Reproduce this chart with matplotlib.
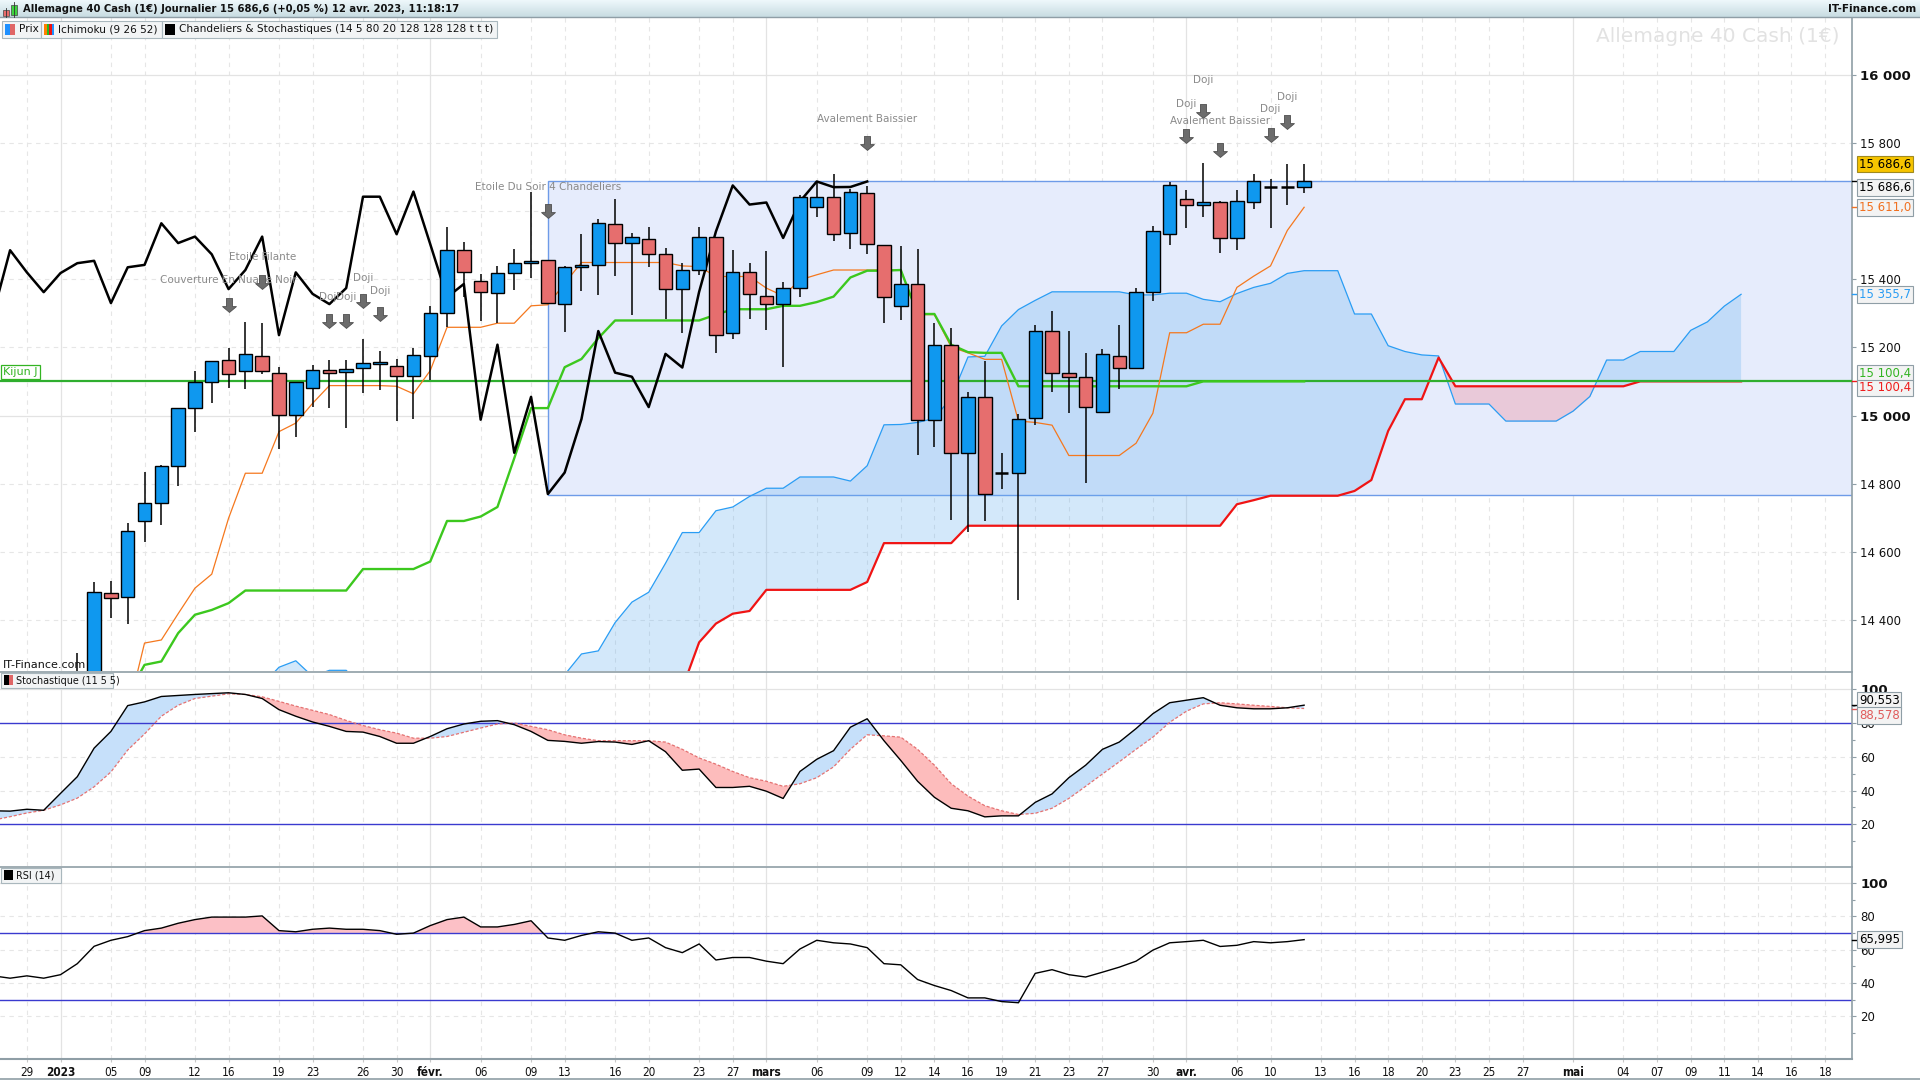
import numpy as np
import matplotlib
matplotlib.use("Agg")
import matplotlib.pyplot as plt
from matplotlib.path import Path
from matplotlib.patches import Rectangle
from matplotlib.lines import Line2D
from matplotlib.colors import LinearSegmentedColormap
import matplotlib.transforms as mtransforms
from matplotlib import font_manager

# ---------------------------------------------------------------- data
bar_start = 3          # bar index of the first candle (0 = 29 déc.)
opens = [14150, 14181, 14481, 14468, 14691, 14743, 14852, 15021, 15098, 15162,
         15130, 15174, 15124, 15001, 15082, 15133, 15127, 15139, 15151, 15145,
         15115, 15174, 15300, 15486, 15394, 15359, 15418, 15447, 15457, 15327,
         15435, 15441, 15561, 15506, 15517, 15473, 15371, 15427, 15525, 15242,
         15420, 15352, 15327, 15374, 15613, 15642, 15535, 15654, 15501, 15320,
         15386, 14988, 15208, 14891, 15055, 14832, 14833, 14994, 15248, 15126,
         15113, 15012, 15175, 15141, 15363, 15534, 15636, 15619, 15625, 15521,
         15625, 15669, 15670, 15669]
highs = [14303, 14512, 14515, 14686, 14836, 14855, 15022, 15132, 15160, 15197,
         15274, 15271, 15142, 15098, 15148, 15163, 15163, 15224, 15189, 15165,
         15197, 15322, 15552, 15510, 15416, 15439, 15489, 15655, 15457, 15439,
         15533, 15577, 15636, 15535, 15553, 15491, 15449, 15554, 15525, 15486,
         15447, 15483, 15391, 15647, 15682, 15709, 15664, 15672, 15501, 15496,
         15488, 15272, 15257, 15068, 15159, 14889, 15005, 15267, 15306, 15247,
         15184, 15194, 15265, 15373, 15557, 15685, 15661, 15740, 15629, 15663,
         15708, 15693, 15737, 15737]
lows = [14130, 14160, 14406, 14388, 14628, 14678, 14794, 14953, 15038, 15082,
        15078, 15121, 14903, 14938, 15024, 15021, 14965, 15067, 15076, 14985,
        14991, 15105, 15260, 15349, 15276, 15271, 15367, 15403, 15329, 15244,
        15364, 15355, 15410, 15296, 15435, 15284, 15241, 15411, 15185, 15226,
        15284, 15252, 15144, 15349, 15581, 15513, 15490, 15474, 15271, 15280,
        14884, 14908, 14693, 14659, 14691, 14784, 14460, 14972, 15068, 15009,
        14802, 15012, 15078, 15136, 15336, 15501, 15550, 15583, 15477, 15486,
        15606, 15550, 15618, 15653]
closes = [14181, 14484, 14465, 14662, 14743, 14852, 15021, 15098, 15159, 15121,
          15180, 15130, 15001, 15098, 15133, 15124, 15136, 15153, 15157, 15115,
          15177, 15300, 15485, 15420, 15362, 15418, 15447, 15454, 15330, 15435,
          15442, 15564, 15506, 15525, 15473, 15371, 15427, 15525, 15236, 15420,
          15357, 15327, 15374, 15642, 15642, 15532, 15657, 15503, 15347, 15386,
          14988, 15208, 14891, 15055, 14770, 14833, 14990, 15248, 15126, 15114,
          15025, 15181, 15141, 15363, 15540, 15675, 15619, 15625, 15521, 15628,
          15686.6, 15670, 15670.5, 15686.6]

line_start = 6         # first bar of tenkan / kijun
tenkan = [14130, 14333, 14342, 14419, 14494, 14535, 14699, 14831, 14831, 14953,
          14978, 15036, 15088, 15088, 15088, 15088, 15086, 15064, 15132, 15259,
          15259, 15259, 15271, 15271, 15322, 15325, 15388, 15449, 15449, 15449,
          15449, 15449, 15449, 15439, 15437, 15408, 15408, 15408, 15374, 15351,
          15398, 15413, 15427, 15427, 15427, 15427, 15427, 15296, 15296, 15201,
          15184, 15165, 15165, 14984, 14980, 14972, 14883, 14883, 14883, 14883,
          14919, 15007, 15243, 15243, 15268, 15268, 15376, 15409, 15439, 15543,
          15611]
kijun = [14180, 14269, 14279, 14362, 14416, 14430, 14450, 14487, 14487, 14487,
         14487, 14487, 14487, 14487, 14550, 14550, 14550, 14550, 14572, 14691,
         14691, 14704, 14732, 14875, 15022, 15022, 15142, 15166, 15227, 15279,
         15279, 15279, 15279, 15279, 15279, 15296, 15312, 15312, 15312, 15322,
         15322, 15333, 15349, 15405, 15425, 15425, 15427, 15298, 15298, 15208,
         15186, 15184, 15184, 15086, 15086, 15086, 15086, 15086, 15086, 15086,
         15086, 15086, 15086, 15086, 15100.4, 15100.4, 15100.4, 15100.4, 15100.4, 15100.4,
         15100.4]
chikou_shift = 26

span_start = 14        # first bar of the cloud
span_a = [14210, 14262, 14281, 14235, 14253, 14253, 14200, 14180, 14160, 14150,
          14150, 14140, 14140, 14150, 14160, 14180, 14200, 14215, 14240, 14301,
          14310, 14393, 14453, 14482, 14567, 14657, 14657, 14721, 14732, 14763,
          14787, 14787, 14820, 14820, 14820, 14808, 14853, 14973, 14974, 14980,
          14992, 15053, 15172, 15174, 15263, 15311, 15338, 15363, 15363, 15363,
          15363, 15363, 15354, 15354, 15359, 15359, 15341, 15334, 15358, 15376,
          15388, 15417, 15425, 15425, 15425, 15298, 15298, 15205, 15188, 15178,
          15175, 15034, 15034, 15034, 14984, 14984, 14984, 14984, 15013, 15056,
          15163, 15163, 15188, 15188, 15188, 15250, 15275, 15321, 15355.7]
span_b = [14000, 14000, 14000, 14000, 14000, 14000, 14000, 14000, 14000, 14000,
          14000, 14000, 14000, 14000, 14000, 14000, 14000, 14000, 14050, 14080,
          14100, 14120, 14150, 14170, 14180, 14200, 14335, 14390, 14419, 14427,
          14489, 14489, 14489, 14489, 14489, 14489, 14512, 14626, 14626, 14626,
          14626, 14626, 14677, 14677, 14677, 14677, 14677, 14677, 14677, 14677,
          14677, 14677, 14677, 14677, 14677, 14677, 14677, 14677, 14740, 14752,
          14765, 14765, 14765, 14765, 14765, 14779, 14811, 14955, 15048, 15048,
          15170, 15086, 15086, 15086, 15086, 15086, 15086, 15086, 15086, 15086,
          15086, 15086, 15100.4, 15100.4, 15100.4, 15100.4, 15100.4, 15100.4, 15100.4]
kijun_j = 15100.4
box_start = 31
box_low, box_high = 14768, 15686.6

osc_start = -2
stoch_k = [28, 27.8, 28.9, 28.3, 38.3, 48.2, 65.1, 75, 90.3, 92.5,
           95.7, 96.3, 96.9, 97.4, 97.9, 96.9, 94.5, 87.9, 84, 80.6,
           78, 75, 74.6, 72, 68, 68, 72, 76.6, 79.4, 81,
           81.4, 79, 75, 69.7, 69.1, 68, 69, 68.7, 67.3, 69.5,
           63, 52, 52.7, 41.8, 41.8, 42.5, 39.6, 35.3, 51.3, 58.5,
           63.6, 77.5, 82.5, 69.5, 57.8, 45.5, 36, 29.5, 28, 24.4,
           25, 25, 33, 38, 47.6, 55, 64.4, 68.7, 76.7, 85.5,
           92, 93.5, 95, 90.5, 89, 88.4, 88.4, 89, 90.553]
stoch_d = [22.5, 24.5, 26.7, 28.3, 31.5, 35.5, 42.2, 51, 64, 73.5,
           84, 90.5, 94.5, 95.9, 97.3, 96.9, 95.5, 92.8, 90, 87.5,
           85, 81.5, 78.5, 76, 74, 71, 71, 72, 74.5, 77,
           79.4, 80, 78, 76, 73, 71, 69.5, 69.5, 69.5, 69.5,
           68.7, 64.4, 59.3, 55.6, 51.3, 47.6, 45.5, 42.5, 44, 47.6,
           54, 64.4, 73, 72.4, 71.6, 64.4, 55, 44, 36.7, 31,
           28, 25.8, 26.5, 29.5, 35.3, 42.5, 49.8, 57, 64.4, 71.6,
           80.4, 87, 91.3, 92, 91.3, 90.5, 89.8, 89, 88.578]
rsi = [44.3, 42.9, 44.3, 42.9, 45, 51.6, 62, 65.6, 67.8, 71.4,
       72.9, 75.8, 78, 79.5, 79.5, 79.5, 80.2, 71.4, 70.7, 72.2,
       72.9, 72.2, 72.2, 71.4, 69.2, 69.9, 74.4, 78, 79.5, 73.6,
       73.6, 75.1, 77.3, 67, 65.6, 68.5, 70.7, 69.9, 65.6, 67,
       61.2, 58.2, 63.4, 53.8, 55.3, 55.3, 53.1, 51.6, 60.4, 65.6,
       64.1, 63.4, 61.2, 51.6, 50.9, 42.1, 38.5, 35.5, 31.1, 31.1,
       28.9, 28.2, 45.8, 48, 45, 43.6, 46.5, 49.5, 53.1, 59.7,
       64.1, 64.8, 65.6, 61.9, 62.6, 64.8, 64.1, 64.8, 65.995]

tick_pos = [0, 2, 5, 7, 10, 12, 15, 17, 20, 22, 24, 27, 30, 32, 35, 37, 40, 42, 44, 47,
            50, 52, 54, 56, 58, 60, 62, 64, 67, 69, 72, 74, 77, 79, 81, 83, 85, 87, 89,
            92, 95, 97, 99, 101, 103, 105, 107]
tick_labels = ['29', '2023', '05', '09', '12', '16', '19', '23', '26', '30', 'févr.', '06',
               '09', '13', '16', '20', '23', '27', 'mars', '06', '09', '12', '14', '16',
               '19', '21', '23', '27', '30', 'avr.', '06', '10', '13', '16', '18', '20',
               '23', '25', '27', 'mai', '04', '07', '09', '11', '14', '16', '18']
month_labels = ['2023', 'févr.', 'mars', 'avr.', 'mai']

pattern_names = ['Couverture En Nuage Noir', 'Etoile Filante', 'Doji', 'Doji', 'Doji', 'Doji',
                 'Etoile Du Soir 4 Chandeliers', 'Avalement Baissier', 'Doji', 'Doji',
                 'Avalement Baissier', 'Doji', 'Doji']
pattern_bars = [12, 14, 18, 19, 20, 21, 31, 50, 69, 70, 71, 74, 75]
pattern_text_y = [15398, 15465, 15347, 15347, 15404, 15364, 15671, 15871, 15913, 15983,
                  15865, 15898, 15933]
pattern_arrow_y = [15325, 15391, 15278, 15278, 15337, 15298, 15601, 15799, 15820, 15894,
                   15779, 15824, 15860]

main_ticks = [14400, 14600, 14800, 15000, 15200, 15400, 15800, 16000]
main_grid = [14400, 14600, 14800, 15000, 15200, 15400, 15600, 15800, 16000]
osc_ticks = [20, 40, 60, 80, 100]

title = "Allemagne 40 Cash (1€) Journalier 15 686,6 (+0,05 %) 12 avr. 2023, 11:18:17"

# ---------------------------------------------------------------- fonts
avail = {f.name for f in font_manager.fontManager.ttflist}
cond_dejavu = any(f.name == 'DejaVu Sans' and f.stretch == 'condensed'
                  for f in font_manager.fontManager.ttflist)
if 'Liberation Sans Narrow' in avail:
    XFONT = dict(family=['Liberation Sans Narrow', 'DejaVu Sans'], fontsize=10)
elif cond_dejavu:
    XFONT = dict(family=['DejaVu Sans'], fontstretch='condensed', fontsize=8.5)
else:
    XFONT = dict(family=['DejaVu Sans'], fontsize=8)
plt.rcParams['font.family'] = ['DejaVu Sans']

# ---------------------------------------------------------------- helpers
W, H = 1920, 1080
PR = 1852  # right edge of plotting area (px)
GRAY = '#8f9ea6'


def fr(v, d=1):
    s = f"{v:,.{d}f}"
    return s.replace(',', ' ').replace('.', ',')


def fx(px):
    return px / W


def fy(py):
    return 1 - py / H


def rect(top, bottom, left=0, right=PR):
    return [left / W, 1 - bottom / H, (right - left) / W, (bottom - top) / H]


fig = plt.figure(figsize=(W / 100, H / 100), dpi=100)
fig.patch.set_facecolor('white')

ax = fig.add_axes(rect(17, 671))
axs = fig.add_axes(rect(672, 866), sharex=ax)
axr = fig.add_axes(rect(867, 1059), sharex=ax)
XMIN, XMAX = -1.6, 108.6

for a in (ax, axs, axr):
    a.set_facecolor('white')
    for s in a.spines.values():
        s.set_visible(False)
    a.spines['right'].set_visible(True)
    a.spines['right'].set_color(GRAY)
    a.spines['right'].set_linewidth(1.2)
    a.yaxis.tick_right()
    for p, lab in zip(tick_pos, tick_labels):
        if lab in month_labels:
            a.axvline(p, color='#e3e3e3', lw=0.9, zorder=0)
        else:
            a.axvline(p, color='#e6e6e6', lw=0.8, ls=(0, (4, 4)), zorder=0)
for a in (axs, axr):
    a.spines['top'].set_visible(True)
    a.spines['top'].set_color(GRAY)
    a.spines['top'].set_linewidth(1.2)
axr.spines['bottom'].set_visible(True)
axr.spines['bottom'].set_color(GRAY)
axr.spines['bottom'].set_linewidth(1.5)

ax.set_xlim(XMIN, XMAX)
ax.tick_params(axis='x', bottom=False, labelbottom=False)
axs.tick_params(axis='x', bottom=False, labelbottom=False)

# ---------------------------------------------------------------- main panel
O = np.array(opens, float); Hh = np.array(highs, float)
L = np.array(lows, float); C = np.array(closes, float)
xb = np.arange(bar_start, bar_start + len(O))

ax.set_ylim(14251, 16169)
for v in main_grid:
    if v % 1000 == 0:
        ax.axhline(v, color='#e3e3e3', lw=0.9, zorder=0)
    else:
        ax.axhline(v, color='#e6e6e6', lw=0.8, ls=(0, (4, 4)), zorder=0)

# pattern box
ax.add_patch(Rectangle((box_start, box_low), 300, box_high - box_low,
                       facecolor='#e6ecfc', edgecolor='#6e9be8', lw=1.0, zorder=1))

# ichimoku cloud
xs = np.arange(span_start, span_start + len(span_a))
A = np.array(span_a, float); B = np.array(span_b, float)
ax.fill_between(xs, A, B, where=A >= B, interpolate=True, color='#64aff0', alpha=0.28,
                lw=0, zorder=2)
ax.fill_between(xs, A, B, where=A < B, interpolate=True, color='#f07a8a', alpha=0.30,
                lw=0, zorder=2)
ax.plot(xs, A, color='#2a9df4', lw=0.9, zorder=3)
ax.plot(xs, B, color='#f01414', lw=1.6, zorder=3)

# kijun J
ax.axhline(kijun_j, color='#2fae2f', lw=1.6, zorder=3)

# tenkan / kijun / chikou
xl = np.arange(line_start, line_start + len(tenkan))
ax.plot(xl, tenkan, color='#f5781e', lw=0.9, zorder=4)
ax.plot(xl, kijun, color='#3cc81e', lw=1.7, zorder=4)
ax.plot(xb - chikou_shift, C, color='black', lw=1.8, zorder=4)

# candles
up = C > O + 1.0
dn = C < O - 1.0
dj = ~(up | dn)
ax.vlines(xb, L, Hh, color='black', lw=1.1, zorder=5)
ax.bar(xb[up], (C - O)[up], bottom=O[up], width=0.8, color='#0f98ef',
       edgecolor='black', lw=1.0, zorder=6)
ax.bar(xb[dn], (O - C)[dn], bottom=C[dn], width=0.8, color='#e66e6e',
       edgecolor='black', lw=1.0, zorder=6)
ax.hlines(C[dj], xb[dj] - 0.4, xb[dj] + 0.4, color='black', lw=1.8, zorder=6)

# candle pattern annotations
arrow = Path([(-0.22, 0.5), (0.22, 0.5), (0.22, -0.08), (0.5, -0.08), (0.0, -0.5),
              (-0.5, -0.08), (-0.22, -0.08), (-0.22, 0.5)])
for name, b, ty, ay in zip(pattern_names, pattern_bars, pattern_text_y, pattern_arrow_y):
    ax.text(b, ty, name, ha='center', va='center', fontsize=7.5, color='#8a8a8a', zorder=8)
    ax.plot([b], [ay], marker=arrow, ms=10, color='#6c6c6c', mec='#4e4e4e', mew=0.6,
            ls='none', zorder=8)

# right axis labels
ax.set_yticks(main_ticks)
ax.set_yticklabels([fr(v, 0) for v in main_ticks])
ax.tick_params(axis='y', length=3, width=0.8, color=GRAY, pad=3, labelsize=8.5,
               labelcolor='#111111')
for lab, v in zip(ax.get_yticklabels(), main_ticks):
    if v % 1000 == 0:
        lab.set_fontweight('bold')
        lab.set_fontsize(9.5)


def value_box(a, yv, text, color, fc='#f3f3f3', ec=GRAY, mark=None, fs=8.5):
    t = mtransforms.blended_transform_factory(a.transAxes, a.transData)
    a.text(1.0037, yv, text, transform=t, ha='left', va='center', fontsize=fs, color=color,
           bbox=dict(boxstyle='square,pad=0.15', fc=fc, ec=ec, lw=0.8),
           clip_on=False, zorder=20)
    if mark is not None:
        a.plot([1.0, 1.0035], [mark, mark], transform=t, color=color, lw=1.0,
               clip_on=False, zorder=19)


last = closes[-1]
value_box(ax, last + 51, fr(last), 'black', fc='#f6c400', ec='#a08a20')
value_box(ax, last - 17, fr(last), 'black', mark=last)
value_box(ax, tenkan[-1], fr(tenkan[-1]), '#f07020', mark=tenkan[-1])
value_box(ax, span_a[-1], fr(span_a[-1]), '#2a9df4', mark=span_a[-1])
value_box(ax, kijun[-1] + 24, fr(kijun[-1]), '#33b422')
value_box(ax, span_b[-1] - 19, fr(span_b[-1]), '#ee1c1c', mark=span_b[-1])

# Kijun J tag
tj = mtransforms.blended_transform_factory(ax.transAxes, ax.transData)
ax.text(0.0015, kijun_j + 27, 'Kijun J', transform=tj, ha='left', va='center', fontsize=8,
        color='#33b422', bbox=dict(boxstyle='square,pad=0.2', fc='white', ec='#33b422', lw=0.9),
        zorder=21)

# ---------------------------------------------------------------- stochastic
xo = np.arange(osc_start, osc_start + len(stoch_k))
K = np.array(stoch_k); D = np.array(stoch_d)
axs.set_ylim(-4.7, 110.2)
axs.axhline(100, color='#e3e3e3', lw=0.9, zorder=0)
for v in (60, 40):
    axs.axhline(v, color='#e6e6e6', lw=0.8, ls=(0, (4, 4)), zorder=0)
axs.fill_between(xo, K, D, where=K >= D, interpolate=True, color='#c6e0fa', lw=0, zorder=1)
axs.fill_between(xo, K, D, where=K < D, interpolate=True, color='#fdbcbc', lw=0, zorder=1)
axs.axhline(80, color='#3a3acf', lw=1.0, zorder=2)
axs.axhline(20, color='#3a3acf', lw=1.0, zorder=2)
axs.plot(xo, D, color='#e47272', lw=0.9, ls=(0, (2.5, 1.5)), zorder=3)
axs.plot(xo, K, color='black', lw=1.0, zorder=4)

# ---------------------------------------------------------------- RSI
R = np.array(rsi)
axr.set_ylim(-5.5, 109.5)
axr.axhline(100, color='#e3e3e3', lw=0.9, zorder=0)
for v in (80, 60, 40, 20):
    axr.axhline(v, color='#e6e6e6', lw=0.8, ls=(0, (4, 4)), zorder=0)
axr.fill_between(xo, R, 70, where=R > 70, interpolate=True, color='#fcc0c6', lw=0, zorder=1)
axr.fill_between(xo, R, 30, where=R < 30, interpolate=True, color='#c6e0fa', lw=0, zorder=1)
axr.axhline(70, color='#3a3acf', lw=1.0, zorder=2)
axr.axhline(30, color='#3a3acf', lw=1.0, zorder=2)
axr.plot(xo, R, color='black', lw=1.0, zorder=4)

for a in (axs, axr):
    a.set_yticks(osc_ticks)
    a.set_yticklabels([str(v) for v in osc_ticks])
    a.set_yticks([10, 30, 50, 70, 90], minor=True)
    a.tick_params(axis='y', which='major', length=3, width=0.8, color=GRAY, pad=3,
                  labelsize=8.5, labelcolor='#111111')
    a.tick_params(axis='y', which='minor', length=2, width=0.8, color=GRAY)
    for lab, v in zip(a.get_yticklabels(), osc_ticks):
        if v == 100:
            lab.set_fontweight('bold')
            lab.set_fontsize(9.5)

value_box(axs, stoch_k[-1] + 2.8, fr(stoch_k[-1], 3), 'black', mark=stoch_k[-1])
value_box(axs, stoch_d[-1] - 4.0, fr(stoch_d[-1], 3), '#e05a5a', mark=stoch_d[-1])
value_box(axr, rsi[-1], fr(rsi[-1], 3), 'black', mark=rsi[-1])

# x axis labels
axr.set_xticks(tick_pos)
axr.set_xticklabels(tick_labels)
axr.tick_params(axis='x', length=2, width=0.8, color='#c8c8c8', pad=3, labelcolor='#111111')
for lab in axr.get_xticklabels():
    lab.set_family(XFONT['family'])
    lab.set_fontsize(XFONT['fontsize'])
    if 'fontstretch' in XFONT:
        lab.set_fontstretch(XFONT['fontstretch'])
    if lab.get_text() in month_labels:
        lab.set_fontweight('bold')
axr.set_xlim(XMIN, XMAX)

# ---------------------------------------------------------------- header & decorations
hax = fig.add_axes([0, fy(17), 1, 17 / H])
cm = LinearSegmentedColormap.from_list('hdr', ['#eef8fb', '#c8dce2'])
hax.imshow(np.linspace(0, 1, 32).reshape(-1, 1), aspect='auto', cmap=cm,
           extent=[0, 1, 0, 1])
hax.set_axis_off()
fig.add_artist(Line2D([0, 1], [fy(17), fy(17)], color=GRAY, lw=1.0))
fig.add_artist(Line2D([0, 1], [fy(1079), fy(1079)], color=GRAY, lw=1.2))

# header icon (two tiny candles)
fig.add_artist(Line2D([fx(6), fx(6)], [fy(8), fy(17)], color='#333333', lw=0.6))
fig.add_artist(Rectangle((fx(3), fy(16)), fx(6), 6 / H, transform=fig.transFigure,
                         fc='#e86c6c', ec='#444444', lw=0.5))
fig.add_artist(Line2D([fx(14), fx(14)], [fy(2), fy(17)], color='#333333', lw=0.6))
fig.add_artist(Rectangle((fx(11), fy(15)), fx(6), 10 / H, transform=fig.transFigure,
                         fc='#3ed43e', ec='#444444', lw=0.5))
fig.text(fx(23), fy(9), title, fontsize=7.2, fontweight='bold', va='center', ha='left',
         color='#111111')
fig.text(fx(1916), fy(9), 'IT-Finance.com', fontsize=7.5, fontweight='bold', va='center',
         ha='right', color='#111111')

# legend row
legend_boxes = [(2, 41, 'Prix'), (41, 162, 'Ichimoku (9 26 52)'),
                (162, 497, 'Chandeliers & Stochastiques (14 5 80 20 128 128 128 t t t)')]
for x0, x1, txt in legend_boxes:
    fig.add_artist(Rectangle((fx(x0), fy(38)), fx(x1 - x0), 17 / H, transform=fig.transFigure,
                             fc='#f2f4f5', ec='#a9b7bd', lw=0.8, zorder=30))
    fig.text(fx(x0 + 17), fy(29.5), txt, fontsize=7.6, va='center', ha='left', color='#111111',
             zorder=31)
fig.add_artist(Rectangle((fx(5), fy(35)), fx(5), 11 / H, transform=fig.transFigure,
                         fc='#1e90ff', lw=0, zorder=31))
fig.add_artist(Rectangle((fx(10), fy(35)), fx(5), 11 / H, transform=fig.transFigure,
                         fc='#e06666', lw=0, zorder=31))
for k, col in enumerate(['#ff7f00', '#22bb22', '#ee1111', '#1e90ff']):
    fig.add_artist(Rectangle((fx(44 + 2.6 * k), fy(35)), fx(2.6), 11 / H,
                             transform=fig.transFigure, fc=col, lw=0, zorder=31))
fig.add_artist(Rectangle((fx(165), fy(35)), fx(10), 11 / H, transform=fig.transFigure,
                         fc='black', lw=0, zorder=31))

# watermark & source
fig.text(fx(1839), fy(36), 'Allemagne 40 Cash (1€)', fontsize=14.5, color='#e2e2e2',
         ha='right', va='center', zorder=0.5)
fig.text(fx(3), fy(665), 'IT-Finance.com', fontsize=8, color='#111111', ha='left',
         va='center', zorder=30)

# panel tags
for y0, txt, w, cols in [(673, 'Stochastique (11 5 5)', 112, ('black', '#e06666')),
                         (868, 'RSI (14)', 60, ('black', 'black'))]:
    fig.add_artist(Rectangle((fx(1), fy(y0 + 15)), fx(w), 15 / H, transform=fig.transFigure,
                             fc='#f2f4f5', ec='#a9b7bd', lw=0.8, zorder=30))
    fig.add_artist(Rectangle((fx(4), fy(y0 + 12)), fx(5), 10 / H, transform=fig.transFigure,
                             fc=cols[0], lw=0, zorder=31))
    fig.add_artist(Rectangle((fx(9), fy(y0 + 12)), fx(4), 10 / H, transform=fig.transFigure,
                             fc=cols[1], lw=0, zorder=31))
    fig.text(fx(16), fy(y0 + 7.5), txt, fontsize=6.9, va='center', ha='left', color='#111111',
             zorder=31)

fig.savefig('out.png', dpi=100, facecolor='white')
